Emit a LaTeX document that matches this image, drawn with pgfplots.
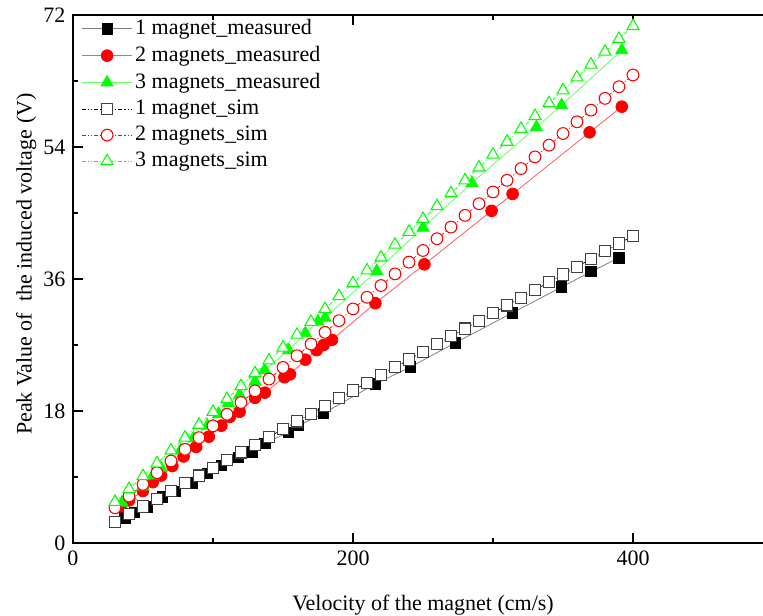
\documentclass[border=0pt]{standalone}
\usepackage{fontspec}
\setmainfont{Liberation Serif}
\usepackage{pgfplots}
\pgfplotsset{compat=1.18}
\definecolor{pgreen}{RGB}{0,255,0}
\definecolor{pred}{RGB}{255,0,0}
\definecolor{lgreen}{RGB}{100,255,100}
\definecolor{lred}{RGB}{255,90,90}
\begin{document}
\fontsize{16.5}{19}\selectfont
\begin{tikzpicture}
\begin{axis}[
  name=ax,
  scale only axis,
  width=525pt, height=396pt,
  xmin=0, xmax=500, ymin=0, ymax=72,
  xtick={0,200,400}, minor xtick={100,300,500},
  ytick={0,18,36,54,72}, minor ytick={9,27,45,63},
  tick align=inside,
  major tick length=7.5pt, minor tick length=4pt,
  every tick/.style={black, line width=1.4pt},
  axis line style={line width=2pt},
  /pgf/number format/assume math mode=true,
  tick label style={font=\fontsize{16.5}{19}\selectfont},
  label style={font=\fontsize{16.5}{19}\selectfont},
  xlabel={Velocity of the magnet (cm/s)},
  xlabel style={yshift=-11pt},
  ylabel={Peak Value of\ \ the induced voltage (V)},
  ylabel style={at={(ticklabel cs:0.528,-6pt)}},
  legend cell align=left,
  legend style={draw=none, fill=none, at={(0.012,0.997)}, anchor=north west,
    font=\fontsize{16.5}{19}\selectfont, row sep=2.2pt, inner sep=0pt,
    nodes={inner sep=2pt}},
  legend image code/.code={\draw[mark repeat=2,mark phase=2] plot coordinates {(0cm,0cm) (0.66cm,0cm) (1.32cm,0cm)};},
]
% measured
\addplot[gray, line width=0.6pt, mark=square*, mark size=3.9pt, mark options={solid, fill=black, draw=black}] coordinates {
(37,3.4)(44,4.2)(53,4.9)(64,6.3)(73,7.0)(85,8.2)(96,9.5)(106,10.6)(118,11.7)(128,12.4)(137,13.6)(154,15.1)(161,16.0)(179,17.7)(216,21.7)(241,24.0)(273,27.3)(314,31.4)(349,34.9)(370,37.0)(390,38.9)
};
\addlegendentry{1 magnet\_measured}
\addplot[lred, line width=0.6pt, mark=*, mark size=4.4pt, mark options={solid, fill=pred, draw=pred}] coordinates {
(34,5.0)(40,5.8)(50,7.1)(57,8.3)(63,9.2)(71,10.5)(79,11.8)(88,13.1)(97,14.5)(106,16.0)(112,17.2)(119,17.9)(130,19.8)(137,20.5)(151,22.6)(155,23.0)(166,25.0)(174,26.3)(179,27.0)(185,27.7)(216,32.7)(251,38.0)(299,45.3)(314,47.6)(369,56.0)(392,59.5)
};
\addlegendentry{2 magnets\_measured}
\addplot[lgreen, line width=0.6pt, mark=triangle*, mark size=5.2pt, mark options={solid, fill=pgreen, draw=pgreen}] coordinates {
(35,5.5)(41,6.4)(50,7.7)(57,9.2)(63,10.2)(70,11.4)(77,12.7)(86,14.3)(96,16.0)(104,17.6)(111,19.1)(119,20.2)(130,22.0)(137,23.6)(154,26.3)(166,28.6)(175,30.2)(180,30.7)(217,37.1)(250,43.0)(285,49.1)(331,56.7)(349,59.7)(392,67.2)
};
\addlegendentry{3 magnets\_measured}
% simulated
\addplot[black, line width=0.5pt, dash pattern=on 3pt off 1.5pt on 0.8pt off 1.5pt on 0.8pt off 1.5pt, mark=square*, mark size=4.2pt, mark options={solid, fill=white, draw=black!75, line width=0.8pt}] coordinates {
(30,2.86)(40,4.0)(50,4.97)(60,6.03)(70,7.08)(80,8.14)(90,9.19)(100,10.25)(110,11.30)(120,12.36)(130,13.41)(140,14.47)(150,15.52)(160,16.58)(170,17.63)(180,18.69)(190,19.74)(200,20.80)(210,21.85)(220,22.91)(230,23.96)(240,25.02)(250,26.07)(260,27.13)(270,28.18)(280,29.24)(290,30.29)(300,31.35)(310,32.40)(320,33.46)(330,34.51)(340,35.57)(350,36.62)(360,37.68)(370,38.73)(380,39.79)(390,40.84)(400,41.90)
};
\addlegendentry{1 magnet\_sim}
\addplot[pred, line width=0.5pt, dash pattern=on 3pt off 1.5pt on 0.8pt off 1.5pt on 0.8pt off 1.5pt, mark=*, mark size=4.4pt, mark options={solid, fill=white, draw=pred, line width=0.8pt}] coordinates {
(30,4.80)(40,6.40)(50,7.99)(60,9.59)(70,11.18)(80,12.78)(90,14.37)(100,15.97)(110,17.56)(120,19.16)(130,20.75)(140,22.35)(150,23.94)(160,25.54)(170,27.13)(180,28.73)(190,30.32)(200,31.92)(210,33.51)(220,35.11)(230,36.70)(240,38.30)(250,39.89)(260,41.49)(270,43.08)(280,44.68)(290,46.27)(300,47.87)(310,49.46)(320,51.06)(330,52.65)(340,54.25)(350,55.84)(360,57.44)(370,59.03)(380,60.63)(390,62.22)(400,63.82)
};
\addlegendentry{2 magnets\_sim}
\addplot[pgreen, line width=0.5pt, dash pattern=on 3pt off 1.5pt on 0.8pt off 1.5pt on 0.8pt off 1.5pt, mark=triangle*, mark size=5.2pt, mark options={solid, fill=white, draw=pgreen, line width=0.8pt}] coordinates {
(30,5.60)(40,7.35)(50,9.11)(60,10.86)(70,12.62)(80,14.37)(90,16.12)(100,17.88)(110,19.63)(120,21.39)(130,23.14)(140,24.89)(150,26.65)(160,28.40)(170,30.16)(180,31.91)(190,33.66)(200,35.42)(210,37.17)(220,38.93)(230,40.68)(240,42.43)(250,44.19)(260,45.94)(270,47.70)(280,49.45)(290,51.20)(300,52.96)(310,54.71)(320,56.47)(330,58.22)(340,59.97)(350,61.73)(360,63.48)(370,65.24)(380,66.99)(390,68.74)(400,70.50)
};
\addlegendentry{3 magnets\_sim}
\end{axis}
\pgfresetboundingbox
\path[use as bounding box] ([shift={(-54.75pt,-54pt)}]ax.south west) rectangle ++(572.25pt,461.25pt);
\end{tikzpicture}
\end{document}
